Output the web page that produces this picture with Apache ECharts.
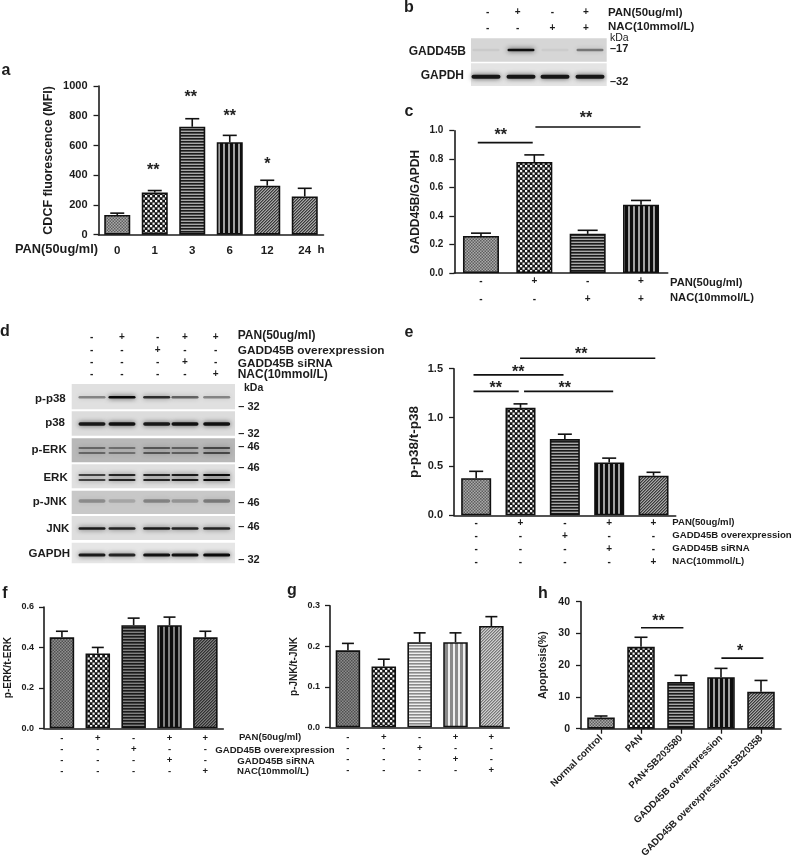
<!DOCTYPE html>
<html><head><meta charset="utf-8">
<style>html,body{margin:0;padding:0;background:#fff}#c{width:794px;height:859px;filter:blur(0.45px)}</style>
<script src="https://cdn.jsdelivr.net/npm/echarts@6/dist/echarts.min.js"></script>
</head><body><div id="c"></div>
<script>
// ---------- data ----------
const aHours=['0','1','3','6','12','24'];
const aValues=[133,283,726,622,330,257];
const aErrTops=[145,297,780,668,366,312];
const aStars=[[0.96,453,'**'],[1.96,941,'**'],[3,812,'**'],[4,491,'*']];

const cPan=['-','+','-','+'];
const cNac=['-','-','+','+'];
const cValues=[0.26,0.78,0.275,0.48];
const cErrTops=[0.28,0.83,0.30,0.51];
const cLines=[[-0.06,0.97,0.916],[1.02,2.99,1.026]];
const cStars=[[0.37,0.986,'**'],[1.97,1.103,'**']];

const ePan=['-','+','-','+','+'];
const eOver=['-','-','+','-','-'];
const eSi=['-','-','-','+','-'];
const eNac=['-','-','-','-','+'];
const eValues=[0.38,1.10,0.78,0.54,0.405];
const eErrTops=[0.45,1.14,0.83,0.585,0.44];
const eLines=[[0.99,4.04,1.607],[-0.06,1.97,1.436],[-0.06,0.96,1.269],[1.08,3.09,1.269]];
const eStars=[[2.37,1.67,'**'],[0.95,1.49,'**'],[0.44,1.325,'**'],[2,1.33,'**']];

const fValues=[0.45,0.37,0.51,0.51,0.45];
const fErrTops=[0.48,0.40,0.545,0.55,0.48];
const gValues=[0.19,0.15,0.21,0.21,0.25];
const gErrTops=[0.207,0.168,0.233,0.233,0.273];

const hNames=['Normal control','PAN','PAN+SB203580','GADD45B overexpression','GADD45B overexpression+SB20358'];
const hValues=[3.5,25.8,14.7,16.2,11.6];
const hErrTops=[4.0,28.8,16.8,19,15.2];
const hLines=[[1,2.06,31.8],[3.01,4.06,22.2]];
const hStars=[[1.44,34.6,'**'],[3.48,25.2,'*']];

// blot band strengths, one per lane
const bGadd=[0.06,1,0.05,0.45];
const bGapdh=[0.95,0.95,0.95,0.95];
const dPP38=[0.4,1,0.8,0.55,0.4];
const dP38=[0.9,0.95,0.9,0.95,0.95];
const dPErk=[0.5,0.45,0.6,0.55,0.7];
const dErk=[0.7,0.85,0.85,0.9,1];
const dPJnk=[0.35,0.2,0.4,0.3,0.45];
const dJnk=[0.9,0.85,0.9,0.85,0.85];
const dGapdh=[0.9,0.85,0.95,0.95,1];

// ---------- styles ----------
const INK='#1c1c1c';
function pat(kind,dark,light){
  const s={dots:3,check:5,h:3,v:5,diag:3}[kind];
  const c=document.createElement('canvas');c.width=s;c.height=s;
  const g=c.getContext('2d');
  if(kind==='check'){
    g.fillStyle=dark;g.fillRect(0,0,s,s);g.fillStyle=light;
    g.fillRect(0,0,2.2,2.2);g.fillRect(2.5,2.5,2.2,2.2);
  }else{
    g.fillStyle=light;g.fillRect(0,0,s,s);g.fillStyle=dark;
    if(kind==='dots'){g.fillRect(0,0,1.5,1.5);g.fillRect(1.5,1.5,1.5,1.5);}
    if(kind==='h'){g.fillRect(0,0,s,1.6);}
    if(kind==='v'){g.fillRect(0,0,3,s);}
    if(kind==='diag'){for(let i=0;i<s;i++){g.fillRect(i,(s-i)%s,1,1);}g.globalAlpha=.5;for(let i=0;i<s;i++){g.fillRect(i,(s-i+1)%s,1,1);}}
  }
  return {image:c,repeat:'repeat'};
}
const P={dots:pat('dots','#5e5e5e','#aaaaaa'),check:pat('check','#141414','#f6f6f6'),h:pat('h','#1a1a1a','#a8a8a8'),v:pat('v','#0e0e0e','#a0a0a0'),diag:pat('diag','#3a3a3a','#a8a8a8')};
const F={dots:pat('dots','#505050','#909090'),check:P.check,h:pat('h','#1a1a1a','#808080'),v:pat('v','#0e0e0e','#808080'),diag:pat('diag','#303030','#7c7c7c')};
const G={dots:pat('dots','#505050','#8c8c8c'),check:P.check,h:pat('h','#8a8a8a','#efefef'),v:pat('v','#8a8a8a','#f0f0f0'),diag:pat('diag','#777','#d0d0d0')};

const grids=[],xAxes=[],yAxes=[],series=[];
const join=(...rows)=>rows[0].map((_,i)=>rows.map(r=>r[i]).join('\n'));

function panel(o){
  const i=grids.length;
  grids.push({left:o.left,top:o.top,width:o.width,height:o.height,containLabel:false,outerBoundsMode:'none'});
  xAxes.push({type:'category',gridIndex:i,data:o.cats,
    axisLine:{lineStyle:{color:INK,width:1.6}},
    axisTick:{show:!!o.xTick,length:5,alignWithLabel:true,lineStyle:{color:INK,width:1.3}},
    axisLabel:Object.assign({interval:0,color:INK,fontFamily:'Liberation Sans',fontWeight:'bold',fontSize:o.xFont,lineHeight:o.xLine,margin:o.xMargin},o.xLabel||{})});
  yAxes.push({type:'value',gridIndex:i,min:0,max:o.max,interval:o.step,splitLine:{show:false},
    axisLine:{show:true,lineStyle:{color:INK,width:1.6}},
    axisTick:{show:true,length:5,lineStyle:{color:INK,width:1.3}},
    axisLabel:{color:INK,fontFamily:'Liberation Sans',fontWeight:'bold',fontSize:o.yFont,margin:o.yMargin,formatter:v=>v.toFixed(o.dec)},
    name:o.name,nameLocation:'middle',nameGap:o.nameGap,
    nameTextStyle:{color:INK,fontFamily:'Liberation Sans',fontWeight:'bold',fontSize:o.nameFont}});
  series.push({type:'bar',xAxisIndex:i,yAxisIndex:i,barWidth:o.barW,silent:true,
    data:o.values.map((v,k)=>({value:v,itemStyle:{color:o.pats[k],borderColor:'#111',borderWidth:1.6}}))});
  series.push({type:'custom',xAxisIndex:i,yAxisIndex:i,silent:true,z:1,
    data:o.values.map((v,k)=>[k,v,o.tops[k]]),encode:{x:0,y:[1,2]},
    renderItem:(p,api)=>{
      const a=api.coord([api.value(0),api.value(1)]),b=api.coord([api.value(0),api.value(2)]);
      const st={stroke:'#111',lineWidth:1.6};
      return {type:'group',children:[
        {type:'line',shape:{x1:a[0],y1:a[1],x2:b[0],y2:b[1]},style:st},
        {type:'line',shape:{x1:b[0]-o.cap/2,y1:b[1],x2:b[0]+o.cap/2,y2:b[1]},style:st}]};
    }});
  const px=(api,x,y)=>{const p0=api.coord([0,y]),p1=api.coord([1,y]);return [p0[0]+x*(p1[0]-p0[0]),p0[1]];};
  if(o.lines) series.push({type:'custom',xAxisIndex:i,yAxisIndex:i,silent:true,
    data:o.lines.map((l,k)=>[k,0]),encode:{x:0,y:1},
    renderItem:(p,api)=>{const l=o.lines[p.dataIndex],a=px(api,l[0],l[2]),b=px(api,l[1],l[2]);
      return {type:'line',shape:{x1:a[0],y1:a[1],x2:b[0],y2:b[1]},style:{stroke:'#111',lineWidth:1.7}};}});
  if(o.stars) series.push({type:'custom',xAxisIndex:i,yAxisIndex:i,silent:true,
    data:o.stars.map((l,k)=>[k,0]),encode:{x:0,y:1},
    renderItem:(p,api)=>{const l=o.stars[p.dataIndex],a=px(api,l[0],l[1]);
      return {type:'text',style:{text:l[2],x:a[0],y:a[1]+3,font:'bold 16px "Liberation Sans"',fill:'#222',align:'center',verticalAlign:'middle'}};}});
}

panel({left:98.5,top:86,width:225,height:148.7,cats:aHours,values:aValues,tops:aErrTops,max:1000,step:200,dec:0,barW:26,cap:14,
  pats:[P.dots,P.check,P.h,P.v,P.diag,P.diag],stars:aStars,name:'CDCF fluorescence (MFI)',nameGap:43,nameFont:12.5,yFont:11,yMargin:11,xFont:11.5,xLine:14,xMargin:9});
panel({left:454.3,top:130.7,width:213.4,height:142.3,cats:join(cPan,cNac),values:cValues,tops:cErrTops,max:1,step:0.2,dec:1,barW:36,cap:20,
  pats:[P.dots,P.check,P.h,P.v],lines:cLines,stars:cStars,name:'GADD45B/GAPDH',nameGap:33,nameFont:12,yFont:10,yMargin:11,xFont:10,xLine:18,xMargin:-1});
panel({left:454,top:368.7,width:221.7,height:146.6,cats:join(ePan,eOver,eSi,eNac),values:eValues,tops:eErrTops,max:1.5,step:0.5,dec:1,barW:30,cap:14,
  pats:[P.dots,P.check,P.h,P.v,P.diag],lines:eLines,stars:eStars,name:'p-p38/t-p38',nameGap:33,nameFont:13.5,yFont:11,yMargin:11,xFont:10,xLine:13.2,xMargin:1});
panel({left:44,top:607,width:179.3,height:121.3,cats:join(ePan,eOver,eSi,eNac),values:fValues,tops:fErrTops,max:0.6,step:0.2,dec:1,barW:24.5,cap:12,
  pats:[F.dots,F.check,F.h,F.v,F.diag],name:'p-ERK/t-ERK',nameGap:31,nameFont:10,yFont:9,yMargin:10,xFont:9.5,xLine:11.3,xMargin:4});
panel({left:330,top:605.7,width:179.3,height:121.6,cats:join(ePan,eOver,eSi,eNac),values:gValues,tops:gErrTops,max:0.3,step:0.1,dec:1,barW:24.5,cap:12,
  pats:[G.dots,G.check,G.h,G.v,G.diag],name:'p-JNK/t-JNK',nameGap:31,nameFont:10,yFont:9,yMargin:10,xFont:9.5,xLine:11.3,xMargin:4});
panel({left:581,top:601.7,width:200,height:127,cats:hNames,values:hValues,tops:hErrTops,max:40,step:10,dec:0,barW:27.5,cap:13,
  pats:[P.dots,P.check,P.h,P.v,P.diag],lines:hLines,stars:hStars,name:'Apoptosis(%)',nameGap:32,nameFont:10.5,yFont:10.5,yMargin:11,xFont:9.7,xLine:12,xMargin:8,xTick:true,xLabel:{rotate:45}});

// ---------- text and blots ----------
const els=[];
function T(x,y,s,size,weight,align){els.push({type:'text',x,y,silent:true,z:5,style:{text:s,font:(weight||'bold')+' '+size+'px "Liberation Sans"',fill:INK,align:align||'left',verticalAlign:'middle'}});}
function blot(x,y,w,h,bg,laneX,laneW,bandY,bandH,vals,dark){
  els.push({type:'rect',silent:true,z:1,shape:{x,y,width:w,height:h},style:{fill:bg}});
  vals.forEach((v,i)=>{bandY.forEach(by=>{
    els.push({type:'rect',silent:true,z:2,shape:{x:laneX[i]-laneW/2,y:by-bandH/2,width:laneW,height:bandH,r:bandH/2},
      style:{fill:'rgba('+dark+','+v+')',shadowBlur:5,shadowColor:'rgba('+dark+','+v*0.8+')'}});
  });});
}
[['a',6,70.7],['b',409,8],['c',409,112],['d',5,332],['e',409,333],['f',5,594],['g',292,591],['h',543,594]].forEach(l=>T(l[1],l[2],l[0],16,'bold','center'));

T(15,249,'PAN(50ug/ml)',12.8);T(321,250,'h',11.5,'bold','center');

// b
const bSignX=[487.7,517.7,552.3,586];
cPan.forEach((s,i)=>T(bSignX[i],12,s,10,'bold','center'));
cNac.forEach((s,i)=>T(bSignX[i],28,s,10,'bold','center'));
T(608,12.7,'PAN(50ug/ml)',11.5);T(608,27.3,'NAC(10mmol/L)',11.5);T(610,38,'kDa',10.5,'normal');
const bLanes=[486,521,555,590];
blot(471,38.3,135.7,23.4,'#d6d6d6',bLanes,27,[50],2.5,bGadd,'15,15,15');
blot(471,63.3,135.7,22.7,'#e4e4e4',bLanes,29,[76.7],4,bGapdh,'15,15,15');
T(466,51.7,'GADD45B',12,'bold','right');T(464,76,'GAPDH',12,'bold','right');
T(610,49.3,'–17',11,'bold');T(610,82,'–32',11,'bold');

// c, e right-hand labels
T(670,283.3,'PAN(50ug/ml)',11.2);T(670,298.3,'NAC(10mmol/L)',11.2);
T(672.3,522.3,'PAN(50ug/ml)',9.6);T(672.3,535.7,'GADD45B overexpression',9.6);T(672.3,548.7,'GADD45B siRNA',9.6);T(672.3,561.3,'NAC(10mmol/L)',9.6);

// d
const dSignX=[91.7,122,157.7,185,215.7],dRowY=[337.3,350.7,362.7,374.7];
[ePan,eOver,eSi,eNac].forEach((r,j)=>r.forEach((s,i)=>T(dSignX[i],dRowY[j],s,10,'bold','center')));
T(237.7,335.7,'PAN(50ug/ml)',12);T(237.7,350.7,'GADD45B overexpression',11.8);T(237.7,363.3,'GADD45B siRNA',11.8);T(237.7,375,'NAC(10mmol/L)',12);
T(244,388.3,'kDa',10.5,'bold');
const dL=[92,122,156.7,185,216.7],dX=71.7,dW=163.3,dW2=27;
blot(dX,384,dW,25.3,'#e0e0e0',dL,dW2,[397.3],2.5,dPP38,'10,10,10');
blot(dX,411.3,dW,24.4,'#dcdcdc',dL,dW2,[424],3.5,dP38,'10,10,10');
blot(dX,438.3,dW,24,'#b8b8b8',dL,dW2,[448,453],2,dPErk,'30,30,30');
blot(dX,464.3,dW,24,'#e0e0e0',dL,dW2,[475,480],2,dErk,'10,10,10');
blot(dX,490.7,dW,23.3,'#c8c8c8',dL,dW2,[501],3.5,dPJnk,'40,40,40');
blot(dX,516,dW,24,'#dedede',dL,dW2,[528.5],2.5,dJnk,'10,10,10');
blot(dX,542.7,dW,20.6,'#e6e6e6',dL,dW2,[555],3,dGapdh,'10,10,10');
[['p-p38',65.7,399],['p38',65,423.3],['p-ERK',66.7,450],['ERK',67.7,477.7],['p-JNK',66.7,502.3],['JNK',69.3,529],['GAPDH',70,554.3]].forEach(l=>T(l[1],l[2],l[0],11.5,'bold','right'));
[['– 32',406.7],['– 32',433.7],['– 46',446.7],['– 46',468],['– 46',502.7],['– 46',526.7],['– 32',560]].forEach(l=>T(238.3,l[1],l[0],11,'bold'));

// f/g shared centre labels
T(270,737.3,'PAN(50ug/ml)',9.6,'bold','center');T(275,750,'GADD45B overexpression',9.6,'bold','center');T(276,761,'GADD45B siRNA',9.6,'bold','center');T(273,771,'NAC(10mmol/L)',9.6,'bold','center');

const chart=echarts.init(document.getElementById('c'),null,{renderer:'canvas',width:794,height:859});
chart.setOption({animation:false,backgroundColor:'#fff',grid:grids,xAxis:xAxes,yAxis:yAxes,series,graphic:{elements:els}});
</script></body></html>
